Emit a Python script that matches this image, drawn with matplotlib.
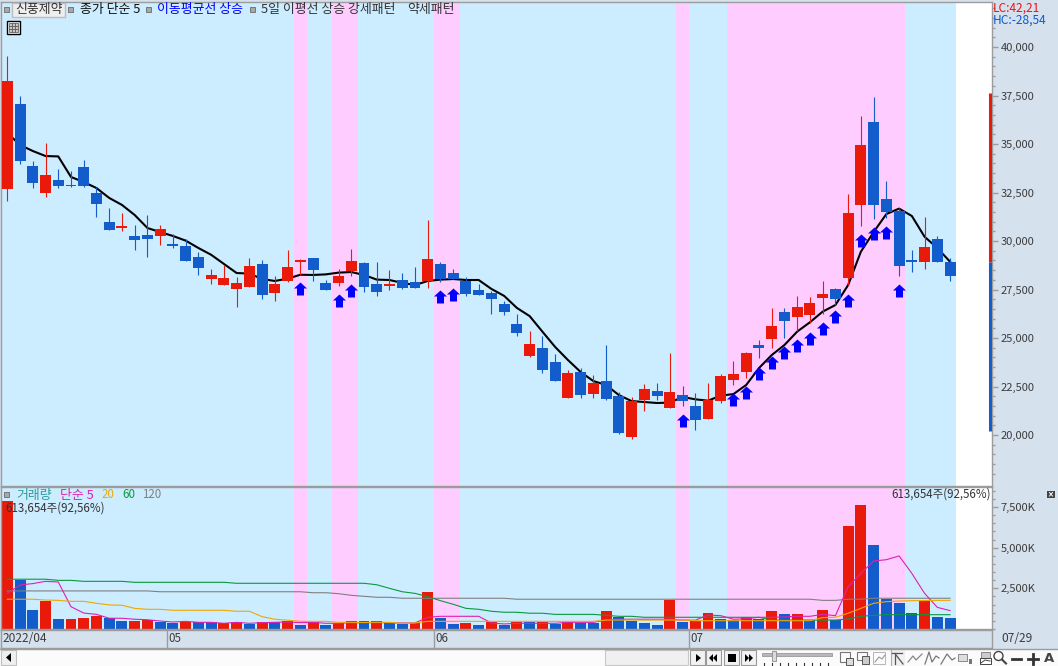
import numpy as np
import matplotlib
matplotlib.use('Agg')
import matplotlib.pyplot as plt
from matplotlib.markers import MarkerStyle
from matplotlib.patches import Rectangle, Circle
from matplotlib.path import Path

plt.rcParams['font.family'] = ['Noto Sans CJK KR', 'DejaVu Sans']

# candles, oldest first
opens = [32700,37060,33870,32490,33140,32900,33810,32470,30980,30670,30260,30310,30260,29850,29740,29180,
         28040,27730,27530,27630,28810,27320,27940,28920,29120,27840,27840,28450,28870,27780,27680,27990,
         27890,27940,28810,28350,27940,27470,27320,26750,25720,24070,24490,23760,21910,23250,22110,22780,
         22010,19900,21810,22270,21390,22060,21500,20830,21750,22840,23250,24640,24950,26340,26080,26190,
         27060,27530,28090,31860,36130,32170,31550,29020,28920,30100,28920]
highs = [39540,37470,34120,35050,33710,33610,34180,32800,31700,31440,30830,31340,30830,30360,30100,29430,
         28560,28760,28140,29120,29020,28200,29540,29070,29120,27990,28560,29590,28920,28920,28510,28350,
         28660,31080,28920,28560,28140,27780,27420,26910,26240,25360,25100,24180,23350,23450,23090,24640,
         22220,21960,22630,22680,24230,22530,22170,22680,23150,23820,24280,24900,26550,26550,27170,27110,
         27940,27580,32420,36440,37420,33090,31700,29540,31240,30260,29120]
lows = [32060,33990,32750,32280,32750,32780,32800,31250,30570,30520,29540,29190,29790,29640,28970,28250,
        27780,27730,26600,27630,27010,26910,27890,28250,27940,27470,27680,28200,27370,27170,27470,27530,
        27580,27580,27890,28040,27170,27220,26240,26190,25100,24020,23200,22780,21910,21910,21910,21810,
        20050,19790,21240,21810,21390,21500,20260,20830,21650,22580,22940,23970,24490,25000,25360,25770,
        26240,26700,27730,30770,31130,31190,28200,28400,28560,28920,27940]
closes = [38250,34140,33000,33400,32840,32840,32860,31920,30570,30770,30050,30100,30620,29740,28970,28610,
          28250,28090,27840,28710,27220,27780,28660,29020,28500,27470,28200,28970,27630,27370,27780,27580,
          27580,29070,28040,28040,27270,27220,27010,26340,25260,24690,23350,22780,23200,22060,22680,21860,
          20100,21750,22370,22010,22220,21750,20770,21810,23040,23150,24230,24490,25620,25880,26600,26800,
          27270,27010,31440,34950,31860,31500,28710,28920,29690,28920,28200]
price_ma5 = [35570,34950,34640,34380,34360,33300,33040,32730,32220,31860,31340,30670,30460,30260,30020,29640,
             29290,28820,28350,28320,28040,27940,28060,28260,28250,28280,28370,28400,28250,28010,27990,27840,
             27730,27940,28010,28040,27990,27990,27530,27170,26550,26130,25330,24540,23870,23250,22780,22580,
             22060,21750,21700,21650,21670,21960,21840,21770,22030,22110,22580,23450,24120,24640,25330,25810,
             26360,26700,27730,29450,30460,31390,31670,31290,30220,29640,28930]

# volume in thousands of shares
volumes = [7870,3010,1170,1720,620,620,680,800,660,490,490,550,430,370,430,410,410,350,430,310,430,410,490,250,430,
           250,370,490,490,490,370,310,370,2270,680,310,370,250,430,250,430,430,430,310,430,370,370,1110,760,490,
           370,250,1780,430,490,980,620,550,720,620,1110,920,920,550,1170,550,6330,7620,5160,1840,1600,980,1720,740,680]
volume_up = [1,0,0,1,0,1,1,1,0,0,1,1,0,0,1,0,0,1,1,0,1,0,1,0,1,0,1,1,0,1,0,0,1,1,0,0,1,0,1,0,1,0,1,0,1,0,0,1,0,0,
             0,0,1,0,1,1,0,0,1,0,1,0,1,0,1,0,1,1,0,0,0,0,1,0,0]
vol_ma5 = [2190,2710,2790,2930,2890,1370,980,900,660,660,600,570,490,430,470,410,410,350,410,350,390,410,430,390,410,
           350,350,390,370,410,370,370,370,720,780,780,780,780,370,310,350,350,350,350,410,410,410,550,600,600,
           600,600,600,550,540,860,820,600,630,720,720,740,780,780,900,820,2600,3420,4180,4260,4490,3420,2190,1330,1130]
vol_ma20 = [1830,1830,1830,1780,1760,1700,1700,1580,1480,1460,1270,1210,1210,1150,1150,1150,1150,1150,1090,1090,760,600,540,470,470,
            470,410,410,400,410,410,350,370,470,470,470,470,470,470,470,470,470,470,470,470,470,470,550,550,550,
            550,550,550,550,510,510,510,510,510,510,510,510,510,510,700,720,970,1270,1580,1680,1720,1740,1750,1760,1760]
vol_ma60 = [3060,3060,3060,3060,2990,2990,2930,2930,2930,2930,2870,2870,2870,2870,2870,2870,2870,2870,2810,2810,2810,2810,2810,2810,2810,
            2810,2810,2810,2810,2720,2500,2290,2190,1990,1740,1520,1270,1210,1090,1030,1030,970,970,900,900,900,900,840,780,780,
            720,720,720,720,720,720,720,720,720,720,550,550,550,550,550,550,620,780,840,880,880,880,880,880,880]
vol_ma120 = [2340,2340,2340,2340,2340,2340,2340,2340,2340,2340,2340,2340,2290,2290,2290,2290,2290,2290,2290,2290,2290,2290,2290,2290,2230,
             2230,2170,2070,2010,1950,1950,1890,1890,1890,1890,1890,1890,1890,1890,1890,1830,1830,1830,1830,1830,1830,1830,1830,1830,1830,
             1830,1830,1830,1830,1830,1830,1830,1830,1830,1830,1830,1830,1830,1830,1760,1760,1830,1830,1890,1890,1890,1890,1890,1890,1890]

# pattern arrows: candle number and price at the arrow tip
arrow_idx = [23,26,27,34,35,53,57,58,59,60,61,62,63,64,65,66,67,68,69,70]
arrow_tip = [27890,27270,27780,27470,27580,21080,22170,22530,23510,24070,24590,24950,25310,25830,26440,27270,30360,30720,30770,27780]
# shaded pattern runs, first and last candle
pink_runs = [(23,23),(26,27),(34,35),(53,53),(57,70)]
# period high to current to period low bar on the right
range_high, range_now, range_low = 37630, 28920, 20210

month_starts = [12.5,33.5,53.5]
month_labels = ['05','06','07']
price_ticks = [40000,37500,35000,32500,30000,27500,25000,22500,20000]
vol_ticks = [7500,5000,2500]

RED = '#EA1A0A'
BLUE = '#125CCB'
SKY = '#CCECFF'
PINK = '#FFCCFF'
PANEL = '#D6E1EE'
EDGE = '#9C9C9C'
TXT = '#3C3C3C'

W, H = 1058, 666
n = len(closes)
x = np.arange(n)
x_left = (1 - 7.3) / 12.74       # candle 0 sits at pixel 7.3, candles are 12.74 px apart
x_right = x_left + (992 - 1) / 12.74

def box(left, top, right, bottom):
    return [left / W, 1 - bottom / H, (right - left) / W, (bottom - top) / H]

fig = plt.figure(figsize=(W / 100, H / 100), dpi=100, facecolor=PANEL)
ax = fig.add_axes(box(1, 2, 992, 486), facecolor='white')
ax_v = fig.add_axes(box(1, 487, 992, 629), facecolor='white', sharex=ax)
ax_d = fig.add_axes(box(1, 630, 992, 648), facecolor=PANEL, sharex=ax)

for a in (ax, ax_v):
    a.axvspan(-0.5, n - 0.5, color=SKY, lw=0, zorder=0)
    for first, last in pink_runs:
        a.axvspan(first - 0.5, last + 0.5, color=PINK, lw=0, zorder=0.5)

# price panel
ax.plot(x, price_ma5, color='black', lw=1.5, zorder=2)
for i in x:
    col = RED if closes[i] >= opens[i] else BLUE
    ax.vlines(i, lows[i], highs[i], color=col, lw=0.8, zorder=3)
    ax.bar(i, abs(closes[i] - opens[i]), bottom=min(opens[i], closes[i]), width=0.86, color=col, lw=0, zorder=3)

arrow = Path([(0, 0), (6.5, -6), (3.5, -6), (3.5, -13), (-3.5, -13), (-3.5, -6), (-6.5, -6), (0, 0)], closed=True)
ax.scatter(arrow_idx, arrow_tip, marker=MarkerStyle(arrow), s=350, color='#0000FF', lw=0, zorder=4)

ax.vlines(x_right - 2.5 / 12.74, range_now, range_high, color=RED, lw=2.2, zorder=3)
ax.vlines(x_right - 2.5 / 12.74, range_low, range_now, color=BLUE, lw=2.2, zorder=3)

ax.set_xlim(x_left, x_right)
ax.set_ylim(42423 - 51.546 * 486, 42423 - 51.546 * 2)
ax.yaxis.tick_right()
ax.set_yticks(price_ticks)
ax.set_yticklabels([f'{t:,}' for t in price_ticks])
ax.set_yticks(np.arange(18000, 42001, 500), minor=True)

# volume panel
bar_cols = [RED if u else BLUE for u in volume_up]
ax_v.bar(x, volumes, width=0.86, color=bar_cols, lw=0, zorder=2)
ax_v.plot(x, vol_ma120, color='#808080', lw=0.8, zorder=3)
ax_v.plot(x, vol_ma60, color='#0A9A3C', lw=0.8, zorder=3)
ax_v.plot(x, vol_ma5, color='#E020B0', lw=0.8, zorder=3)
ax_v.plot(x, vol_ma20, color='#F0A800', lw=0.8, zorder=3)
ax_v.set_ylim(0, 142 * 61.47)
ax_v.yaxis.tick_right()
ax_v.set_yticks(vol_ticks)
ax_v.set_yticklabels([f'{t:,}K' for t in vol_ticks])
ax_v.set_yticks(np.arange(0, 8501, 500), minor=True)

for a in (ax, ax_v):
    a.tick_params(axis='y', which='major', length=4.5, width=1, color=EDGE, labelsize=8, labelcolor=TXT, pad=1.5)
    a.tick_params(axis='y', which='minor', length=2, width=1, color=EDGE)
    a.tick_params(axis='x', which='both', bottom=False, labelbottom=False)
    for s in a.spines.values():
        s.set_color(EDGE)
        s.set_linewidth(1)

# date strip
ax_d.set_yticks([])
ax_d.tick_params(axis='x', which='both', bottom=False, labelbottom=False)
for s in ax_d.spines.values():
    s.set_color(EDGE)
    s.set_linewidth(1)
for pos, lab in zip(month_starts, month_labels):
    ax_d.axvline(pos, color=EDGE, lw=1)
    ax_d.annotate(lab, (pos, 0.5), xycoords=ax_d.get_xaxis_transform(), xytext=(1, 0),
                  textcoords='offset points', va='center', ha='left', fontsize=8.3, color=TXT)

# window chrome, in pixel coordinates
ov = fig.add_axes([0, 0, 1, 1], facecolor='none', zorder=10)
ov.set_xlim(0, W)
ov.set_ylim(H, 0)
ov.axis('off')

def rect(left, top, right, bottom, fc='none', ec='none', lw=1):
    ov.add_patch(Rectangle((left, top), right - left, bottom - top, fc=fc, ec=ec, lw=lw))

def label(px, py, s, color=TXT, size=9.3, ha='left'):
    ov.text(px, py, s, color=color, fontsize=size, ha=ha, va='center')

def poly(pts, color='black'):
    ov.fill([p[0] for p in pts], [p[1] for p in pts], color=color, lw=0)

def line(pts, color='#8C8C8C', lw=1):
    ov.plot([p[0] for p in pts], [p[1] for p in pts], color=color, lw=lw)

for sx in (4, 68, 146, 250):
    rect(sx, 7, sx + 5, 12, fc='#A8A8A8', ec='#777777', lw=0.7)
rect(11.5, 2.5, 64.5, 17, fc='#EEEEEE', ec='#BDBDBD', lw=1)
label(15, 9.5, '신풍제약', color='#333333')
label(80, 9.5, '종가 단순 5', color='#111111')
label(157, 9.5, '이동평균선 상승', color='#0000FF')
label(261, 9.5, '5일 이평선 상승 강세패턴', color='#333333')
label(407, 9.5, '약세패턴', color='#333333')
# little table icon
rect(6.5, 20.5, 19.5, 33.5, fc='white', ec='black', lw=1)
rect(8.5, 22.5, 17.5, 31.5, fc='#C8C8C8', ec='#777777', lw=0.7)
line([(11.5, 22.5), (11.5, 31.5)], '#666666', 0.7)
line([(14.5, 22.5), (14.5, 31.5)], '#666666', 0.7)
line([(8.5, 26), (17.5, 26)], '#666666', 0.7)
line([(8.5, 29), (17.5, 29)], '#666666', 0.7)

label(993, 8, 'LC:42,21', color='#F01010', size=8.6)
label(993, 20, 'HC:-28,54', color='#0A5AD0', size=8.6)

rect(4, 492, 9, 497, fc='#A8A8A8', ec='#777777', lw=0.7)
label(16, 495, '거래량', color='#2E9C9C')
label(60, 495, '단순 5', color='#E020B0')
label(102, 495, '20', color='#F0A800', size=8.3)
label(122, 495, '60', color='#0A9A3C', size=8.3)
label(142, 495, '120', color='#808080', size=8.3)
label(5, 508, '613,654주(92,56%)', color='#333333', size=8.3)
label(991, 494, '613,654주(92,56%)', color='#333333', size=8.3, ha='right')
rect(1047, 491, 1055, 497.5, fc='#444444')
line([(1049.5, 492.5), (1052.5, 496)], 'white', 0.7)
line([(1052.5, 492.5), (1049.5, 496)], 'white', 0.7)

label(3, 638.5, '2022/04', size=8.6)
label(1001, 638.5, '07/29', size=8.6)

# bottom toolbar
rect(0, 649, W, 666, fc='#FBFBFB')
line([(0, 648.5), (W, 648.5)], EDGE, 1)
rect(1, 650, 16, 665, fc='#EFEFEF', ec='#C0C0C0', lw=0.8)
poly([(11, 653), (11, 662), (6, 657.5)])
rect(605, 650, 688, 665, fc='#F0F0F0', ec='#C8C8C8', lw=0.8)
for bx in (690, 706, 724, 741):
    rect(bx, 650, bx + 15, 665, fc='#F2F2F2', ec='#9A9A9A', lw=0.8)
poly([(696, 654), (696, 662), (701, 658)])
poly([(713, 654), (713, 662), (709, 658)])
poly([(717, 654), (717, 662), (713, 658)])
rect(728, 654, 736, 662, fc='black')
poly([(745, 654), (745, 662), (749, 658)])
poly([(749, 654), (749, 662), (753, 658)])
# speed slider
rect(762, 653, 832, 655.5, fc='#B8B8B8', ec='#8C8C8C', lw=0.5)
rect(772, 651, 775.5, 661, fc='#DADADA', ec='#8C8C8C', lw=0.6)
for tx in np.arange(764, 832, 8):
    line([(tx, 663), (tx, 666)], '#333333', 0.8)
# chart tool icons
rect(840, 652, 850, 662, fc='none', ec='#777777', lw=0.8)
rect(846, 658, 853, 665, fc='#DDDDDD', ec='#555555', lw=0.7)
rect(857, 652, 867, 660, fc='none', ec='#777777', lw=0.8)
rect(862, 656, 869, 664, fc='#CCCCCC', ec='#555555', lw=0.7)
rect(873, 652, 885, 664, fc='none', ec='#AAAAAA', lw=0.6)
line([(875, 662), (879, 657), (882, 659), (885, 655)], '#999999', 0.8)
line([(890.5, 650), (890.5, 666)], '#AAAAAA', 0.8)
rect(891, 649, 905, 666, fc='#F0F0F0')
line([(892, 653), (902, 653)], '#555555', 0.9)
line([(895, 653), (895, 664)], '#555555', 0.9)
line([(896, 655), (903, 664)], '#555555', 0.9)
line([(908, 662), (913, 656), (916, 660), (922, 654)], '#888888', 0.9)
line([(925, 664), (929, 652), (932, 662), (936, 656), (939, 658)], '#777777', 0.9)
line([(941, 664), (947, 654), (952, 660), (955, 658)], '#777777', 0.9)
rect(958, 654, 967, 661, fc='#DDDDDD', ec='#888888', lw=0.7)
rect(969, 659, 972, 664, fc='#777777')
rect(981, 652, 990, 658, fc='#CCCCCC', ec='#888888', lw=0.7)
rect(980, 658, 991, 664, fc='white', ec='#444444', lw=0.7)
line([(981, 663), (985, 660), (990, 661)], '#444444', 0.7)
ov.add_patch(Circle((998.5, 656), 4.5, fc='none', ec='#444444', lw=1))
line([(1002, 659.5), (1006, 663.5)], '#444444', 1.5)
line([(1012, 658.5), (1021, 658.5)], '#333333', 2)
line([(1028, 658.5), (1038, 658.5)], '#333333', 2)
line([(1033, 653.5), (1033, 663.5)], '#333333', 2)
ov.text(1049.5, 658.5, 'A', color='#444444', fontsize=9.5, fontweight='bold', ha='center', va='center', family='DejaVu Sans')

fig.savefig('out.png', dpi=100, facecolor=fig.get_facecolor())
